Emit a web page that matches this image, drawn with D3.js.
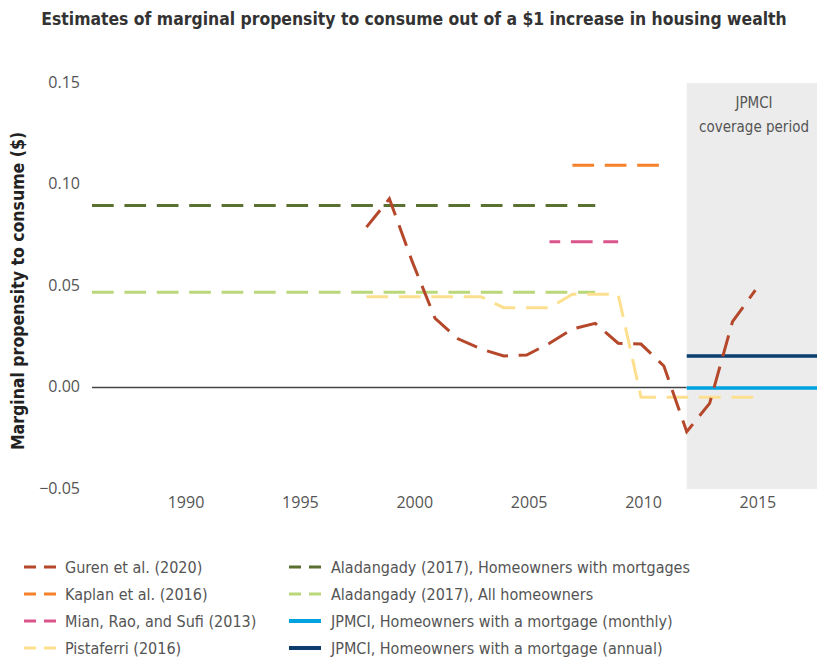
<!DOCTYPE html>
<html lang="en">
<head>
<meta charset="utf-8">
<title>MPC housing wealth</title>
<script src="https://cdn.jsdelivr.net/npm/d3@7"></script>
<style>
  body { margin: 0; background: #fff; }
  svg text { font-family: "Open Sans", sans-serif; }
  .title { font-family: "DejaVu Sans Condensed", "DejaVu Sans", sans-serif; font-weight: bold; font-size: 17.4px; fill: #333; }
  .ytitle { font-family: "DejaVu Sans Condensed", "DejaVu Sans", sans-serif; font-weight: bold; font-size: 17.5px; fill: #222; }
  .tick text { font-size: 16px; fill: #555; }
  .leg { font-family: "DejaVu Sans Condensed", "DejaVu Sans", sans-serif; font-size: 16px; fill: #555; }
  .note { font-family: "DejaVu Sans Condensed", "DejaVu Sans", sans-serif; font-size: 15px; fill: #555; }
</style>
</head>
<body>
<svg id="chart" width="817" height="660"></svg>
<script>
// data
var gurenYears = [1998,1999,2000,2001,2002,2003,2004,2005,2006,2007,2008,2009,2010,2011,2012,2013,2014,2015];
var gurenVals  = [0.079,0.093,0.062,0.034,0.024,0.019,0.0155,0.016,0.0218,0.0288,0.0316,0.0218,0.0214,0.0106,-0.0218,-0.0078,0.0324,0.048];

var pistaYears = [1998,2003,2004,2006,2007,2009,2010,2015];
var pistaVals  = [0.0447,0.0447,0.0393,0.0393,0.0459,0.0459,-0.0048,-0.0048];

var aladMortYears = [1986,2008];
var aladMortVals  = [0.0897,0.0897];
var aladAllYears  = [1986,2008];
var aladAllVals   = [0.0469,0.0469];

var kaplanYears = [2007,2011];
var kaplanVals  = [0.1095,0.1095];

var mianYears = [2006,2009];
var mianVals  = [0.0718,0.0718];

var jpmMonthYears = [2012,2018];
var jpmMonthVals  = [-0.0003,-0.0003];
var jpmAnnYears   = [2012,2018];
var jpmAnnVals    = [0.0155,0.0155];

var coverageStart = 2012;
var xTicks = [1990,1995,2000,2005,2010,2015];
var yTicks = [-0.05,0,0.05,0.10,0.15];

var svg = d3.select("#chart");

var x = d3.scaleLinear().domain([1986, 2018]).range([92, 824]);
var y = d3.scaleLinear().domain([-0.05, 0.15]).range([489, 83]);

svg.append("text").attr("class","title")
  .attr("x", 414).attr("y", 25).attr("text-anchor","middle")
  .text("Estimates of marginal propensity to consume out of a $1 increase in housing wealth");

// y axis (labels only)
var yAxis = d3.axisLeft(y).tickValues(yTicks).tickSize(0).tickPadding(0)
  .tickFormat(function(d){ return d3.format(".2f")(d).replace("-", "\u2212"); });
svg.append("g").attr("transform","translate(80,-1)").call(yAxis)
  .call(function(g){ g.select(".domain").remove(); });

var xAxis = d3.axisBottom(x).tickValues(xTicks).tickSize(0).tickPadding(0)
  .tickFormat(d3.format("d"));
svg.append("g").attr("transform","translate(2,492)").call(xAxis)
  .call(function(g){ g.select(".domain").remove(); g.selectAll("text").attr("dy","1em"); });

svg.append("text").attr("class","ytitle")
  .attr("transform","translate(24,291) rotate(-90)")
  .attr("text-anchor","middle")
  .text("Marginal propensity to consume ($)");

// zero line
svg.append("line")
  .attr("x1", x(1986)).attr("x2", x(coverageStart))
  .attr("y1", y(0)).attr("y2", y(0))
  .attr("stroke","#444").attr("stroke-width",1.3);

// coverage shading
svg.append("rect")
  .attr("x", x(coverageStart)).attr("y", y(0.15))
  .attr("width", x(2018) - x(coverageStart)).attr("height", y(-0.05) - y(0.15))
  .attr("fill","#ececec");

svg.append("text").attr("class","note").attr("x", 754).attr("y", 108)
  .attr("text-anchor","middle").text("JPMCI");
svg.append("text").attr("class","note").attr("x", 754).attr("y", 132)
  .attr("text-anchor","middle").text("coverage period");

var line = d3.line().x(function(d){ return x(d[0]); }).y(function(d){ return y(d[1]); });

function draw(years, vals, color, dash, width, offset) {
  svg.append("path")
    .datum(d3.zip(years, vals))
    .attr("d", line)
    .attr("fill","none")
    .attr("stroke", color)
    .attr("stroke-width", width)
    .attr("stroke-dasharray", dash)
    .attr("stroke-dashoffset", offset || 0);
}

draw(aladMortYears, aladMortVals, "#5b7132", "21.7,10.7", 3);
draw(aladAllYears, aladAllVals, "#bad77a", "21.7,10.7", 3);
draw(kaplanYears, kaplanVals, "#f5822a", "21.7,10.7", 3);
draw(mianYears, mianVals, "#d9558c", "21.7,10.7", 3, 11);
draw(pistaYears, pistaVals, "#fde08f", "21.7,10.7", 3);
draw(jpmMonthYears, jpmMonthVals, "#00a3e0", null, 3.5);
draw(jpmAnnYears, jpmAnnVals, "#0b3d6e", null, 3.5);
draw(gurenYears, gurenVals, "#b5482b", "21.7,10.7", 3);

// legend
var legNames = ["Guren et al. (2020)","Kaplan et al. (2016)","Mian, Rao, and Sufi (2013)","Pistaferri (2016)",
  "Aladangady (2017), Homeowners with mortgages","Aladangady (2017), All homeowners",
  "JPMCI, Homeowners with a mortgage (monthly)","JPMCI, Homeowners with a mortgage (annual)"];
var legColors = ["#b5482b","#f5822a","#d9558c","#fde08f","#5b7132","#bad77a","#00a3e0","#0b3d6e"];
var legSolid = [false,false,false,false,false,false,true,true];

var leg = svg.append("g").selectAll("g").data(legNames).enter().append("g")
  .attr("transform", function(d,i){
    return "translate(" + (i < 4 ? 24 : 289) + "," + (567 + (i % 4) * 27) + ")";
  });
leg.append("line").attr("x1",0).attr("x2",32).attr("y1",0).attr("y2",0)
  .attr("stroke", function(d,i){ return legColors[i]; })
  .attr("stroke-width", function(d,i){ return legSolid[i] ? 4 : 3; })
  .attr("stroke-dasharray", function(d,i){ return legSolid[i] ? null : "12,8"; });
leg.append("text").attr("class","leg").attr("x", function(d,i){ return i < 4 ? 41 : 42; })
  .attr("y", 0).attr("dy","0.35em").text(function(d){ return d; });
</script>
</body>
</html>
